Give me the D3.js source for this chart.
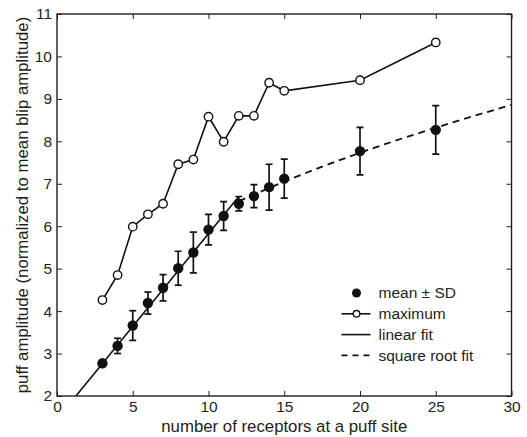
<!DOCTYPE html>
<html>
<head>
<meta charset="utf-8">
<script src="https://cdn.jsdelivr.net/npm/d3@7"></script>
<style>
  html, body { margin: 0; padding: 0; background: #fff; }
  text { font-family: "Liberation Sans", Arial, Helvetica, sans-serif; fill: #231f20; }
</style>
</head>
<body>
<div id="chart"></div>
<script>
// number of receptors at the site
var receptors = [3, 4, 5, 6, 7, 8, 9, 10, 11, 12, 13, 14, 15, 20, 25];
// mean puff amplitude and its SD
var mean_amp  = [2.77, 3.18, 3.66, 4.19, 4.55, 5.01, 5.38, 5.92, 6.24, 6.53, 6.71, 6.92, 7.12, 7.77, 8.27];
var sd_amp    = [0.04, 0.18, 0.35, 0.26, 0.31, 0.40, 0.48, 0.36, 0.34, 0.17, 0.27, 0.54, 0.46, 0.56, 0.57];
// maximum puff amplitude
var max_amp   = [4.26, 4.85, 5.99, 6.28, 6.53, 7.46, 7.57, 8.58, 7.99, 8.60, 8.60, 9.38, 9.19, 9.44, 10.33];

// fit curves, points
var linear_fit = [ [1.25, 2.0], [12, 6.70] ];
var sqrt_fit   = [ [12, 6.59], [15, 7.05], [20, 7.73], [25, 8.32], [30, 8.86] ];

var x_ticks = [0, 5, 10, 15, 20, 25, 30];
var y_ticks = [2, 3, 4, 5, 6, 7, 8, 9, 10, 11];

var legend_labels = ['mean \u00b1 SD', 'maximum', 'linear fit', 'square root fit'];

// The SVG Element
var width  = 527;
var height = 437;
var svg = d3.select('#chart')
    .append('svg')
    .attr('width', width)
    .attr('height', height);

// Scales
var scale_x = d3.scaleLinear()
    .domain([0, 30])
    .range([57, 511.5]);

var scale_y = d3.scaleLinear()
    .domain([2, 11])
    .range([396, 14]);

var plot_left = scale_x(0), plot_right = scale_x(30);
var plot_top = scale_y(11), plot_bottom = scale_y(2);

svg.append('clipPath')
    .attr('id', 'clip-plot')
    .append('rect')
    .attr('x', plot_left)
    .attr('y', plot_top)
    .attr('width', plot_right - plot_left)
    .attr('height', plot_bottom - plot_top);

// Axes (ticks pointing inward, on all four sides)
function style_axis(g) {
    g.selectAll('.domain').remove();
    g.selectAll('line').attr('stroke', '#231f20').attr('stroke-width', 1);
    g.selectAll('text')
        .attr('font-size', '15.5px')
        .attr('font-family', '"Liberation Sans", Arial, sans-serif')
        .attr('fill', '#231f20');
}

svg.append('g')
    .attr('transform', 'translate(0,' + plot_bottom + ')')
    .call(d3.axisBottom(scale_x).tickValues(x_ticks).tickSizeInner(-5).tickSizeOuter(0).tickPadding(5))
    .call(style_axis);

svg.append('g')
    .attr('transform', 'translate(0,' + plot_top + ')')
    .call(d3.axisTop(scale_x).tickValues(x_ticks).tickSizeInner(-5).tickSizeOuter(0).tickFormat(''))
    .call(style_axis);

svg.append('g')
    .attr('transform', 'translate(' + plot_left + ',0)')
    .call(d3.axisLeft(scale_y).tickValues(y_ticks).tickSizeInner(-5).tickSizeOuter(0).tickPadding(5))
    .call(style_axis);

svg.append('g')
    .attr('transform', 'translate(' + plot_right + ',0)')
    .call(d3.axisRight(scale_y).tickValues(y_ticks).tickSizeInner(-5).tickSizeOuter(0).tickFormat(''))
    .call(style_axis);

// box
svg.append('rect')
    .attr('x', plot_left)
    .attr('y', plot_top)
    .attr('width', plot_right - plot_left)
    .attr('height', plot_bottom - plot_top)
    .attr('fill', 'none')
    .attr('stroke', '#231f20')
    .attr('stroke-width', 1.4);

// Axis labels
svg.append('text')
    .attr('x', (plot_left + plot_right) / 2)
    .attr('y', 432)
    .attr('text-anchor', 'middle')
    .attr('font-size', '16.8px')
    .text('number of receptors at a puff site');

svg.append('text')
    .attr('transform', 'translate(27.5,' + ((plot_top + plot_bottom) / 2) + ') rotate(-90)')
    .attr('text-anchor', 'middle')
    .attr('font-size', '16.8px')
    .text('puff amplitude (normalized to mean blip amplitude)');

var plot = svg.append('g').attr('clip-path', 'url(#clip-plot)');

var line = d3.line()
    .x(function(d) { return scale_x(d[0]); })
    .y(function(d) { return scale_y(d[1]); });

// Fits
plot.append('path')
    .datum(linear_fit)
    .attr('d', line)
    .attr('fill', 'none')
    .attr('stroke', '#111')
    .attr('stroke-width', 1.6);

plot.append('path')
    .datum(sqrt_fit)
    .attr('d', line.curve(d3.curveMonotoneX))
    .attr('fill', 'none')
    .attr('stroke', '#111')
    .attr('stroke-width', 1.8)
    .attr('stroke-dasharray', '7,5');
line.curve(d3.curveLinear);

// Maximum
var max_pts = receptors.map(function(n, i) { return [n, max_amp[i]]; });

plot.append('path')
    .datum(max_pts)
    .attr('d', line)
    .attr('fill', 'none')
    .attr('stroke', '#111')
    .attr('stroke-width', 1.6);

plot.selectAll('.max-pt')
    .data(max_pts)
    .enter()
    .append('circle')
    .attr('class', 'max-pt')
    .attr('cx', function(d) { return scale_x(d[0]); })
    .attr('cy', function(d) { return scale_y(d[1]); })
    .attr('r', 4.2)
    .attr('fill', '#fff')
    .attr('stroke', '#111')
    .attr('stroke-width', 1.4);

// Mean +- SD
var mean_pts = receptors.map(function(n, i) { return { n: n, m: mean_amp[i], sd: sd_amp[i] }; });

var bars = plot.selectAll('.err')
    .data(mean_pts)
    .enter()
    .append('g')
    .attr('class', 'err')
    .attr('stroke', '#111')
    .attr('stroke-width', 1.7);

bars.append('line')
    .attr('x1', function(d) { return scale_x(d.n); })
    .attr('x2', function(d) { return scale_x(d.n); })
    .attr('y1', function(d) { return scale_y(d.m - d.sd); })
    .attr('y2', function(d) { return scale_y(d.m + d.sd); });

bars.append('line')
    .attr('x1', function(d) { return scale_x(d.n) - 3.5; })
    .attr('x2', function(d) { return scale_x(d.n) + 3.5; })
    .attr('y1', function(d) { return scale_y(d.m + d.sd); })
    .attr('y2', function(d) { return scale_y(d.m + d.sd); });

bars.append('line')
    .attr('x1', function(d) { return scale_x(d.n) - 3.5; })
    .attr('x2', function(d) { return scale_x(d.n) + 3.5; })
    .attr('y1', function(d) { return scale_y(d.m - d.sd); })
    .attr('y2', function(d) { return scale_y(d.m - d.sd); });

plot.selectAll('.mean-pt')
    .data(mean_pts)
    .enter()
    .append('circle')
    .attr('class', 'mean-pt')
    .attr('cx', function(d) { return scale_x(d.n); })
    .attr('cy', function(d) { return scale_y(d.m); })
    .attr('r', 5.2)
    .attr('fill', '#111');

// Legend
var legend = svg.append('g').attr('transform', 'translate(341.5,293)');
var row_h = 20.8;

legend.append('circle')
    .attr('cx', 15).attr('cy', 0).attr('r', 4.5).attr('fill', '#111');

legend.append('line')
    .attr('x1', 0).attr('x2', 29).attr('y1', row_h).attr('y2', row_h)
    .attr('stroke', '#111').attr('stroke-width', 1.6);
legend.append('circle')
    .attr('cx', 15).attr('cy', row_h).attr('r', 3.3)
    .attr('fill', '#fff').attr('stroke', '#111').attr('stroke-width', 1.3);

legend.append('line')
    .attr('x1', 0).attr('x2', 29).attr('y1', row_h * 2).attr('y2', row_h * 2)
    .attr('stroke', '#111').attr('stroke-width', 1.6);

legend.append('line')
    .attr('x1', 0).attr('x2', 29).attr('y1', row_h * 3).attr('y2', row_h * 3)
    .attr('stroke', '#111').attr('stroke-width', 1.6)
    .attr('stroke-dasharray', '6,5');

legend.selectAll('text')
    .data(legend_labels)
    .enter()
    .append('text')
    .attr('x', 37)
    .attr('y', function(d, i) { return i * row_h; })
    .attr('dy', '0.35em')
    .attr('font-size', '15.5px')
    .text(function(d) { return d; });
</script>
</body>
</html>
